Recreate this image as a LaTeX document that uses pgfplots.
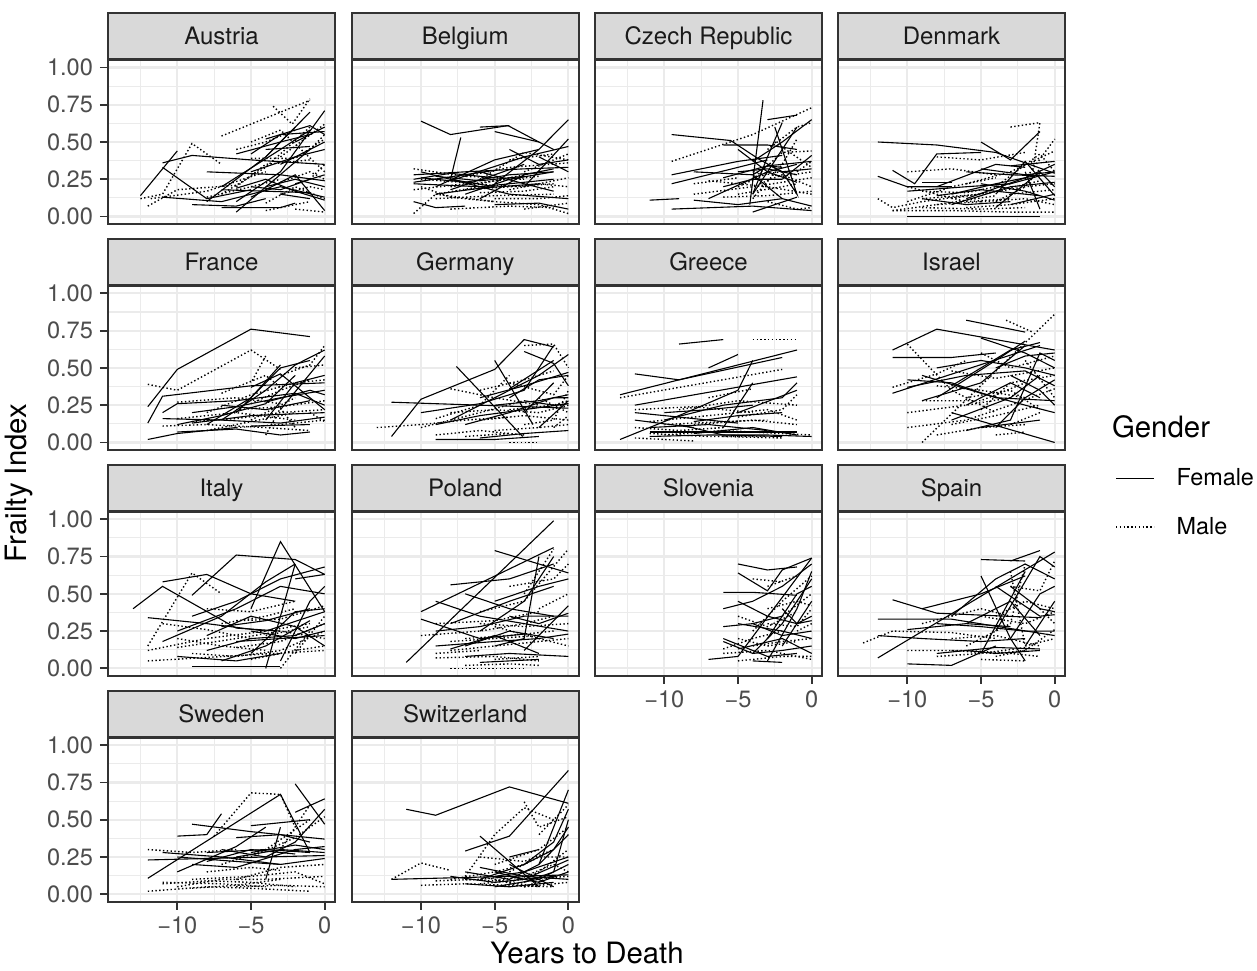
\documentclass[border=0pt]{standalone}
\usepackage{fontspec}
\setmainfont{TeX Gyre Heros}
\usepackage{pgfplots}
\pgfplotsset{compat=1.18}
\definecolor{stripfill}{HTML}{D9D9D9}
\definecolor{border}{HTML}{333333}
\definecolor{gridc}{HTML}{EBEBEB}
\definecolor{ticklab}{HTML}{4D4D4D}
\definecolor{striptext}{HTML}{1A1A1A}
\newcommand{\tickfont}{\fontsize{11.8}{13}\selectfont}
\newcommand{\stripfont}{\fontsize{12}{13}\selectfont}
\newcommand{\titlefont}{\fontsize{14.7}{17}\selectfont}
\newcommand{\legfont}{\fontsize{11.7}{14}\selectfont}
\pgfplotsset{
  fem/.style={black, line width=0.55pt, mark=none, solid},
  mal/.style={black, line width=0.7pt, mark=none, dash pattern=on 0.7pt off 1.2pt},
  panel/.style={
    scale only axis, width=113.5pt, height=82pt,
    xmin=-14.7, xmax=0.7, ymin=-0.05, ymax=1.05,
    xtick={-10,-5,0}, ytick={0,0.25,0.5,0.75,1},
    minor xtick={-12.5,-7.5,-2.5}, minor ytick={0.125,0.375,0.625,0.875},
    xticklabels={}, yticklabels={},
    xtick pos=bottom, ytick pos=left,
    grid=both,
    major grid style={draw=gridc, line width=1.1pt},
    minor grid style={draw=gridc, line width=0.55pt},
    axis line style={draw=border, line width=0.9pt},
    tick align=outside, major tick length=4pt, minor tick length=0pt,
    xtick style={draw=none}, ytick style={draw=none},
    every axis title/.style={at={(0.5,1)}, anchor=south, fill=stripfill, draw=border,
      line width=0.9pt, minimum width=113.5pt, minimum height=23pt, inner sep=0pt,
      text height=8.6pt, text depth=0pt,
      font=\stripfont, text=striptext},
    tick label style={font=\tickfont, text=ticklab},
    clip=true,
  },
  ylab/.style={yticklabels={0.00,0.25,0.50,0.75,1.00}, ytick style={draw=border, line width=0.9pt}},
  xlab/.style={xticklabels={−10,−5,0}, xtick style={draw=border, line width=0.9pt}},
}
\newcommand{\F}[1]{\addplot[fem] coordinates {#1};}
\newcommand{\M}[1]{\addplot[mal] coordinates {#1};}
\newcommand{\panel}[5]{%
\begin{axis}[panel, at={(#1,#2)}, anchor=south west, title={#3}, #4]
#5
\end{axis}}
\begin{document}
\begin{tikzpicture}
\path[use as bounding box] (0,0) rectangle (628.5pt,-485pt);
% ---------------- Row 1 ----------------
\panel{54pt}{-112pt}{Austria}{ylab}{%
\F{(-12.5,0.14)(-10,0.44)}
\F{(-11,0.33)(-8,0.12)(-5,0.18)}
\F{(-11,0.36)(-9,0.41)(-5,0.38)(0,0.35)}
\M{(-12.5,0.12)(-11,0.15)(-9,0.49)(-7,0.35)}
\M{(-12,0.07)(-10,0.18)(-6,0.21)}
\M{(-11.8,0.12)(-8,0.17)(-4,0.3)}
\M{(-7,0.54)(-1,0.78)}
\M{(-3.5,0.74)(-2.2,0.62)(-1,0.79)}
\F{(-11,0.13)(-7,0.1)(-3,0.2)(0,0.13)}
\F{(-8,0.3)(-3,0.28)(0,0.24)}
\F{(-7,0.06)(-3,0.06)(-2,0.09)}
\F{(-6,0.03)(-1,0.45)}
\F{(-8,0.1)(-4,0.4)(-2,0.6)}
\F{(-6,0.1)(-3,0.3)(0,0.71)}
\F{(-4,0.4)(-1,0.7)}
\F{(-5,0.42)(-3,0.55)(0,0.57)}
\F{(-4,0.52)(-1,0.61)(0,0.55)}
\F{(-6,0.19)(-4,0.25)(-2,0.17)(0,0.11)}
\F{(-3,0.35)(0,0.5)}
\F{(-7,0.2)(-3,0.45)(-1,0.58)}
\F{(-4,0.45)(-1,0.47)}
\F{(-5,0.13)(-2,0.28)(0,0.04)}
\F{(-3,0.15)(-1,0.12)}
\F{(-7,0.18)(-4,0.17)(-1,0.16)}
\M{(-7,0.15)(-4,0.33)(-1,0.6)}
\M{(-5,0.39)(-2,0.39)(0,0.52)}
\M{(-4,0.09)(-2,0.2)(0,0.12)}
\M{(-6,0.2)(-4,0.35)(-1,0.38)}
\M{(-3,0.4)(0,0.62)}
\M{(-2,0.05)(0,0.03)}
\M{(-4,0.04)(-1,0.1)}
\M{(-1,0.25)(0,0.35)}
\M{(-5,0.5)(-3,0.58)(0,0.3)}
\M{(-3,0.23)(-1,0.3)(0,0.25)}
\F{(-2,0.22)(0,0.28)}
\F{(-9,0.08)(-6,0.07)(-4,0.12)}
\F{(-6,0.42)(-3,0.5)(-1,0.55)}
\F{(-5,0.3)(-2,0.4)(0,0.45)}
\F{(-4,0.2)(-2,0.25)(0,0.2)}
\M{(-6,0.45)(-4,0.5)(-2,0.58)}
\M{(-3,0.15)(-1,0.2)(0,0.18)}
\M{(-8,0.13)(-5,0.2)(-3,0.25)}
\F{(-2,0.5)(0,0.6)}
\M{(-1,0.45)(0,0.55)}
\F{(-5,0.2)(-3,0.18)(-1,0.25)}
}
\panel{175.85pt}{-112pt}{Belgium}{}{%
\F{(-10,0.64)(-8,0.55)(-4.1,0.61)(-2,0.5)}
\F{(-6,0.6)(-4,0.61)}
\F{(-5,0.57)(-2,0.5)(-1,0.45)}
\F{(-7.3,0.53)(-8,0.25)(-5,0.2)}
\F{(-5,0.22)(-2,0.45)(0,0.65)}
\F{(-3,0.2)(0,0.52)}
\F{(-10.5,0.28)(-7,0.3)(-3,0.32)(0,0.33)}
\F{(-10.5,0.22)(-6,0.2)(-1,0.25)}
\F{(-10.5,0.1)(-9,0.06)(-7,0.07)}
\F{(-10.5,0.25)(-8,0.29)(-5,0.26)}
\F{(-9,0.2)(-5,0.38)(-2,0.45)}
\F{(-10,0.3)(-4,0.15)(0,0.12)}
\F{(-8,0.24)(-3,0.4)(0,0.47)}
\F{(-7,0.15)(-4,0.25)(-1,0.3)}
\F{(-6,0.3)(-3,0.22)(-1,0.17)}
\F{(-5,0.08)(-2,0.09)(0,0.05)}
\F{(-9,0.15)(-6,0.19)(-2,0.22)}
\F{(-10.5,0.23)(-5,0.31)}
\F{(-4,0.45)(-2,0.35)(0,0.38)}
\M{(-10.5,0.02)(-9,0.15)(-6,0.2)}
\M{(-10.5,0.32)(-7,0.27)(-3,0.25)}
\M{(-10.5,0.18)(-7,0.22)(-3,0.2)(0,0.26)}
\M{(-9,0.15)(-5,0.1)(-2,0.08)(0,0.02)}
\M{(-8,0.05)(-4,0.07)(-1,0.06)}
\M{(-7,0.27)(-4,0.33)(0,0.36)}
\M{(-6,0.25)(-3,0.43)(0,0.38)}
\M{(-5,0.12)(-2,0.12)(0,0.14)}
\M{(-9,0.12)(-5,0.14)(-1,0.15)}
\M{(-3,0.3)(0,0.42)}
\M{(-4,0.38)(-1,0.42)}
\M{(-8,0.2)(-5,0.24)(-2,0.27)}
\M{(-10,0.2)(-8,0.13)(-5,0.1)}
\M{(-6,0.16)(-3,0.17)(-1,0.2)}
\F{(-10,0.26)(-7,0.23)(-4,0.28)(-1,0.3)}
\F{(-8,0.18)(-5,0.28)(-3,0.35)}
\M{(-10,0.25)(-6,0.22)(-2,0.3)}
\M{(-7,0.18)(-4,0.2)(-1,0.22)}
\F{(-6,0.12)(-3,0.28)(-1,0.32)}
\M{(-4,0.18)(-2,0.22)(0,0.2)}
\F{(-9,0.27)(-6,0.24)(-3,0.27)}
\M{(-3,0.05)(0,0.09)}
\F{(-2,0.4)(0,0.3)}
}
\panel{297.5pt}{-112pt}{Czech Republic}{}{%
\F{(-11,0.11)(-9,0.12)}
\F{(-9.5,0.05)(-4,0.07)(0,0.04)}
\F{(-9.5,0.55)(-5.5,0.51)(-3.5,0.38)(-2,0.3)}
\F{(-3.3,0.78)(-4.2,0.08)}
\F{(-9.5,0.22)(-5,0.33)(-3,0.38)}
\F{(-9.5,0.28)(-5,0.37)(-2,0.41)}
\F{(-6,0.48)(-3,0.48)(-1,0.45)}
\F{(-8,0.3)(-4,0.28)(-2,0.12)(0,0.07)}
\F{(-4,0.03)(-1,0.13)}
\F{(-5,0.45)(-3,0.3)(-1,0.35)}
\F{(-3,0.65)(-1,0.68)}
\F{(-2,0.63)(-3,0.4)(-4,0.15)}
\F{(-2.5,0.6)(-1,0.15)(-2,0.3)}
\F{(-4,0.15)(-1,0.6)}
\F{(-6,0.26)(-3,0.34)(0,0.37)}
\F{(-2,0.25)(0,0.41)}
\F{(-4,0.37)(-2,0.5)(0,0.65)}
\F{(-7,0.12)(-3,0.3)(-1,0.23)}
\F{(-8,0.11)(-5,0.08)(-2,0.12)}
\M{(-9.5,0.37)(-4,0.55)(0,0.73)}
\M{(-8,0.15)(-4,0.2)(0,0.26)}
\M{(-7,0.24)(-3,0.2)(0,0.15)}
\M{(-4,0.25)(-2,0.43)(0,0.44)}
\M{(-5,0.15)(-2,0.2)(-1,0.22)}
\M{(-2.5,0.5)(0,0.33)}
\M{(-6,0.13)(-3,0.14)(0,0.17)}
\M{(-3,0.1)(-1,0.05)(0,0.06)}
\M{(-4,0.12)(-2,0.35)(-1,0.52)}
\M{(-1,0.3)(0,0.37)}
\M{(-8,0.22)(-5,0.26)}
\M{(-3.5,0.22)(-2,0.28)(0,0.2)}
\F{(-5,0.3)(-3,0.32)(-1,0.28)}
\F{(-3,0.35)(-2,0.3)(0,0.32)}
\M{(-4,0.3)(-2,0.27)(0,0.3)}
\M{(-3,0.45)(-1,0.6)(0,0.63)}
\F{(-4,0.28)(-3,0.34)(-2,0.33)}
\M{(-5,0.2)(-3,0.29)(-1,0.31)}
\F{(-6,0.2)(-4,0.25)(-2,0.25)}
}
\panel{419pt}{-112pt}{Denmark}{}{%
\F{(-12,0.5)(-8,0.48)(-4,0.43)(0,0.29)}
\F{(-10,0.0)(-1,0.0)}
\F{(-12,0.27)(-10,0.2)(-7,0.2)}
\F{(-11,0.31)(-9.5,0.22)(-8,0.42)(-5,0.43)}
\F{(-9,0.23)(-7,0.23)}
\F{(-5,0.5)(-3,0.38)(-1,0.57)}
\F{(-8,0.2)(-4,0.35)(-2,0.33)}
\F{(-6,0.12)(-2,0.26)(0,0.35)}
\F{(-4,0.06)(-1,0.3)(0,0.2)}
\F{(-7,0.08)(-3,0.2)(0,0.23)}
\F{(-6,0.3)(-3,0.28)(0,0.27)}
\F{(-4,0.15)(-2,0.37)(0,0.14)}
\F{(-3,0.34)(0,0.37)}
\F{(-8,0.14)(-5,0.18)(-1,0.14)}
\F{(-5,0.22)(-2,0.17)(0,0.11)}
\F{(-2,0.3)(-1,0.05)}
\F{(-9,0.12)(-6,0.08)(-3,0.1)}
\M{(-12,0.12)(-11,0.06)(-9,0.1)(-6,0.14)}
\M{(-11,0.04)(-8,0.08)(-5,0.1)}
\M{(-10,0.1)(-7,0.2)(-4,0.26)}
\M{(-10,0.3)(-7,0.32)(-4,0.28)}
\M{(-8,0.4)(-5,0.38)(-2,0.43)}
\M{(-3,0.6)(-1,0.63)(-1.5,0.3)}
\M{(-11,0.04)(-7,0.04)(-3,0.03)(0,0.03)}
\M{(-9,0.06)(-5,0.05)(-2,0.06)}
\M{(-7,0.12)(-4,0.17)(-1,0.24)}
\M{(-6,0.22)(-3,0.3)(0,0.44)}
\M{(-5,0.1)(-2,0.12)(0,0.08)}
\M{(-4,0.2)(-1,0.42)(0,0.3)}
\M{(-3,0.15)(0,0.18)}
\M{(-8,0.08)(-4,0.14)}
\M{(-2,0.25)(0,0.52)}
\M{(-9,0.17)(-6,0.16)(-3,0.22)}
\F{(-10,0.17)(-6,0.2)(-3,0.22)(0,0.3)}
\M{(-9,0.12)(-5,0.15)(-2,0.2)(0,0.22)}
\F{(-7,0.15)(-4,0.22)(-1,0.28)}
\M{(-6,0.06)(-3,0.08)(0,0.12)}
\F{(-5,0.32)(-2,0.28)(0,0.3)}
\M{(-4,0.1)(-2,0.2)(-1,0.32)}
\F{(-3,0.08)(0,0.15)}
\M{(-10,0.2)(-6,0.1)(-3,0.12)}
}
% ---------------- Row 2 ----------------
\panel{54pt}{-224.95pt}{France}{ylab}{%
\F{(-12,0.24)(-10,0.49)(-5,0.76)(-1,0.71)}
\M{(-12,0.39)(-10,0.35)(-5,0.62)(-3,0.49)}
\F{(-12,0.13)(-11,0.31)(-5,0.38)(0,0.4)}
\F{(-12,0.02)(-10,0.06)(-6,0.1)}
\F{(-11,0.2)(-10,0.26)(-6,0.28)(-2,0.33)}
\F{(-10,0.12)(-7,0.18)(-4,0.26)(-2,0.45)}
\F{(-11,0.16)(-7,0.15)(-3,0.13)(0,0.17)}
\F{(-10,0.07)(-6,0.09)(-3,0.05)(-1,0.07)}
\F{(-8,0.12)(-5,0.3)(-3,0.52)}
\F{(-7,0.15)(-4,0.35)(-2,0.52)(0,0.62)}
\F{(-6,0.2)(-3,0.5)(-1,0.55)}
\F{(-5,0.37)(-3,0.46)(0,0.22)}
\F{(-4,0.27)(-1,0.35)(0,0.32)}
\F{(-3,0.22)(0,0.58)}
\F{(-9,0.13)(-5,0.18)(0,0.2)}
\F{(-5,0.11)(-1,0.12)}
\F{(-2,0.33)(0,0.25)}
\M{(-11,0.11)(-8,0.12)(-4,0.1)(-1,0.08)}
\M{(-10,0.27)(-6,0.3)(-3,0.26)}
\M{(-10,0.16)(-6,0.2)(-2,0.15)}
\M{(-8,0.2)(-5,0.32)(-2,0.4)(0,0.42)}
\M{(-7,0.33)(-4,0.45)(-3,0.37)}
\M{(-4,0.58)(-5,0.4)}
\M{(-4,0.05)(-3,0.23)(-2,0.1)}
\M{(-3,0.45)(-1,0.52)(0,0.65)}
\M{(-2,0.5)(0,0.52)}
\M{(-6,0.22)(-3,0.24)(0,0.28)}
\M{(-6,0.1)(-3,0.12)(0,0.15)}
\M{(-1,0.2)(0,0.14)}
\M{(-5,0.15)(-2,0.3)}
\F{(-9,0.2)(-6,0.24)(-3,0.3)(0,0.35)}
\M{(-9,0.14)(-6,0.16)(-3,0.2)(0,0.22)}
\F{(-7,0.25)(-4,0.22)(-1,0.28)}
\M{(-8,0.08)(-5,0.14)(-2,0.2)}
\F{(-4,0.15)(-2,0.4)(0,0.45)}
\M{(-5,0.26)(-3,0.35)(-1,0.42)}
}
\panel{175.85pt}{-224.95pt}{Germany}{}{%
\F{(-12,0.04)(-10,0.29)(-5,0.49)(-3,0.69)(-1,0.64)}
\M{(-13,0.1)(-10,0.12)(-7,0.15)(-4,0.17)}
\F{(-12,0.27)(-9,0.26)(0,0.23)}
\F{(-7.6,0.51)(-3.1,0.04)}
\F{(-5,0.55)(-2.4,0.12)}
\F{(-9,0.02)(-5,0.02)(-2,0.04)}
\M{(-4,0.0)(-2,0.0)}
\F{(-10,0.2)(-6,0.26)(-3,0.35)(-1,0.65)}
\F{(-8,0.15)(-5,0.3)(-2,0.45)(0,0.59)}
\F{(-7,0.12)(-4,0.2)(-1,0.3)(0,0.3)}
\F{(-6,0.3)(-3,0.38)(0,0.47)}
\F{(-3,0.61)(-1,0.53)(0,0.38)}
\F{(-5,0.25)(-2,0.28)(0,0.32)}
\F{(-4,0.36)(-1,0.55)}
\F{(-6,0.03)(-3,0.06)(0,0.08)}
\F{(-2,0.1)(0,0.28)}
\F{(-3,0.2)(-1,0.4)}
\M{(-10,0.1)(-6,0.2)(-3,0.28)}
\M{(-9,0.16)(-6,0.25)(-4,0.45)}
\M{(-8,0.36)(-5,0.3)(-2,0.25)}
\M{(-6,0.15)(-3,0.18)(0,0.15)}
\M{(-4,0.22)(-1,0.25)(0,0.28)}
\M{(-3,0.65)(-1,0.66)(0,0.5)}
\M{(-5,0.08)(-2,0.1)(0,0.12)}
\M{(-2,0.3)(0,0.2)}
\M{(-4,0.4)(-1,0.32)(0,0.45)}
\M{(-1,0.1)(0,0.18)}
\M{(-7,0.04)(-4,0.06)}
\M{(-3,0.12)(-1,0.15)(0,0.35)}
\F{(-9,0.12)(-6,0.18)(-3,0.22)(0,0.26)}
\M{(-8,0.2)(-5,0.22)(-2,0.2)(0,0.25)}
\F{(-4,0.3)(-2,0.42)(0,0.45)}
\M{(-6,0.35)(-3,0.42)(-1,0.48)}
\F{(-3,0.28)(-1,0.25)(0,0.26)}
\M{(-9,0.05)(-6,0.08)(-3,0.05)}
}
\panel{297.5pt}{-224.95pt}{Greece}{}{%
\F{(-9,0.66)(-6,0.69)}
\M{(-4,0.69)(-1,0.69)}
\F{(-7,0.5)(-5,0.59)}
\F{(-12,0.46)(-9,0.42)(-2,0.57)}
\F{(-13,0.32)(-1,0.62)}
\M{(-13,0.3)(-2,0.49)}
\F{(-12,0.25)(-1,0.44)}
\F{(-13,0.02)(-9,0.18)(-5,0.35)(-4,0.55)}
\F{(-12,0.2)(-8,0.16)(-5,0.13)}
\F{(-11,0.07)(-1,0.07)}
\F{(-11,0.1)(-7,0.12)(-3,0.08)}
\F{(-10,0.15)(-6,0.25)(-2,0.3)(-1,0.4)}
\F{(-8,0.06)(-4,0.1)(-1,0.05)}
\F{(-6,0.1)(-4,0.4)}
\F{(-5,0.2)(-1,0.35)}
\F{(-9,0.12)(-6,0.05)(-2,0.04)}
\F{(-12,0.15)(-8,0.1)}
\M{(-12,0.22)(-8,0.24)(-4,0.2)}
\M{(-12,0.03)(-8,0.01)}
\M{(-11,0.14)(-7,0.18)(-3,0.22)(-1,0.15)}
\M{(-10,0.05)(-6,0.08)(-2,0.06)(0,0.05)}
\M{(-9,0.22)(-5,0.28)(-1,0.25)}
\M{(-8,0.12)(-4,0.15)(-1,0.12)}
\M{(-7,0.3)(-4,0.36)}
\M{(-6,0.04)(-2,0.03)}
\M{(-12,0.1)(-9,0.08)(-6,0.1)}
\M{(-5,0.17)(-2,0.22)(-1,0.32)}
\F{(-11,0.04)(-7,0.05)(-3,0.05)(0,0.04)}
\M{(-11,0.06)(-7,0.04)(-3,0.04)}
\F{(-10,0.2)(-7,0.22)(-4,0.25)}
\M{(-10,0.12)(-6,0.14)(-3,0.15)}
\F{(-8,0.14)(-5,0.18)(-2,0.2)}
}
\panel{419pt}{-224.95pt}{Israel}{}{%
\F{(-11,0.62)(-8,0.76)(0,0.62)}
\F{(-11,0.57)(-7,0.57)(-4,0.6)}
\F{(-11,0.33)(-1,0.65)}
\M{(-10,0.66)(-7,0.35)(-4,0.2)}
\M{(-3.3,0.82)(-1.5,0.74)}
\M{(-9,0.0)(0,0.86)}
\F{(-6,0.82)(-2,0.74)}
\F{(-7,0.2)(0,0.0)}
\F{(-10,0.37)(-6,0.45)(-2,0.48)(0,0.38)}
\F{(-10,0.42)(-7,0.4)(-4,0.3)(0,0.28)}
\F{(-9,0.28)(-5,0.4)(-2,0.65)}
\F{(-8,0.3)(-4,0.55)(-2,0.68)}
\F{(-7,0.15)(-3,0.3)(-1,0.45)}
\F{(-6,0.08)(-3,0.15)(-1,0.6)(0,0.55)}
\F{(-5,0.7)(-2,0.6)(0,0.5)}
\F{(-9,0.45)(-5,0.33)(-2,0.25)(0,0.2)}
\F{(-4,0.1)(-2,0.3)(0,0.42)}
\F{(-5,0.1)(-1,0.15)}
\F{(-3,0.45)(-1,0.35)(0,0.25)}
\F{(-7,0.38)(-3,0.62)(-1,0.67)}
\M{(-11,0.37)(-8,0.46)(-6,0.55)}
\M{(-10,0.2)(-6,0.25)(-3,0.3)}
\M{(-10,0.1)(-6,0.15)(-3,0.25)(0,0.36)}
\M{(-8,0.05)(-5,0.1)(-2,0.12)}
\M{(-7,0.48)(-4,0.43)(0,0.5)}
\M{(-6,0.3)(-3,0.35)(-1,0.22)}
\M{(-5,0.22)(-3,0.4)(0,0.45)}
\M{(-4,0.05)(-2,0.07)}
\M{(-2,0.55)(0,0.3)}
\M{(-9,0.28)(-5,0.28)(-2,0.4)}
\M{(-3,0.12)(-1,0.2)}
\F{(-8,0.5)(-5,0.55)(-2,0.5)(0,0.45)}
\M{(-8,0.38)(-5,0.35)(-2,0.3)}
\F{(-6,0.25)(-3,0.4)(-1,0.3)}
\M{(-7,0.12)(-4,0.18)(-1,0.25)}
\F{(-4,0.5)(-2,0.58)(0,0.6)}
\M{(-5,0.6)(-3,0.5)(0,0.58)}
}
% ---------------- Row 3 ----------------
\panel{54pt}{-337.9pt}{Italy}{ylab}{%
\F{(-13,0.4)(-11,0.55)(-6,0.27)(-3,0.25)}
\F{(-11,0.58)(-8,0.63)(-5,0.5)(-2,0.45)}
\F{(-9,0.49)(-6,0.76)(-2,0.73)(0,0.63)}
\F{(-5,0.4)(-3,0.85)(0,0.38)}
\F{(-9,0.01)(-3,0.01)}
\M{(-12,0.15)(-9,0.64)(-7,0.5)}
\M{(-12,0.05)(0,0.12)}
\F{(-12,0.34)(-8,0.3)(-4,0.25)(0,0.38)}
\F{(-11,0.18)(-7,0.35)(-4,0.58)(-2,0.7)}
\F{(-10,0.25)(-6,0.4)(-3,0.55)(0,0.5)}
\F{(-9,0.35)(-6,0.45)(-3,0.6)(0,0.68)}
\F{(-8,0.22)(-5,0.35)(-2,0.28)(0,0.15)}
\F{(-7,0.05)(-4,0.15)(-1,0.32)}
\F{(-6,0.18)(-3,0.2)(0,0.22)}
\F{(-4,0.0)(-2,0.7)}
\F{(-3,0.05)(-1,0.45)(0,0.55)}
\F{(-10,0.08)(-6,0.05)(-3,0.1)}
\F{(-5,0.1)(-2,0.38)(0,0.4)}
\F{(-2,0.6)(0,0.63)}
\M{(-12,0.12)(-8,0.2)(-4,0.25)(-1,0.3)}
\M{(-11,0.3)(-8,0.26)(-5,0.2)}
\M{(-10,0.2)(-7,0.15)(-4,0.12)}
\M{(-9,0.1)(-6,0.08)(-3,0.12)(0,0.25)}
\M{(-7,0.3)(-4,0.35)(-2,0.4)}
\M{(-6,0.32)(-3,0.33)(0,0.42)}
\M{(-5,0.06)(-2,0.12)(0,0.15)}
\M{(-3,0.0)(-1,0.25)}
\M{(-4,0.22)(-1,0.28)}
\M{(-2,0.1)(0,0.35)}
\M{(-8,0.4)(-5,0.38)(-2,0.45)}
\F{(-8,0.12)(-5,0.2)(-2,0.22)(0,0.3)}
\M{(-10,0.14)(-6,0.2)(-3,0.25)(0,0.2)}
\F{(-7,0.28)(-4,0.32)(-1,0.4)}
\M{(-6,0.14)(-3,0.18)(0,0.3)}
\F{(-5,0.25)(-2,0.2)(0,0.25)}
}
\panel{175.85pt}{-337.9pt}{Poland}{}{%
\F{(-11,0.04)(-1,0.99)}
\F{(-10,0.38)(-1,0.81)}
\F{(-5,0.79)(0,0.64)}
\F{(-8,0.56)(-4,0.6)(-1,0.7)}
\F{(-9,0.45)(-6,0.35)(-3,0.3)(0,0.25)}
\F{(-10,0.33)(-6,0.2)(-3,0.23)}
\F{(-9,0.15)(-5,0.18)(-2,0.2)(0,0.23)}
\F{(-8,0.3)(-4,0.45)(-1,0.55)}
\F{(-7,0.08)(-4,0.1)(0,0.08)}
\F{(-6,0.25)(-3,0.45)(-1,0.75)}
\F{(-5,0.15)(-3,0.2)(-2,0.75)}
\F{(-8,0.13)(-5,0.22)(-2,0.1)}
\F{(-4,0.35)(-2,0.3)(0,0.37)}
\F{(-3,0.12)(0,0.42)}
\F{(-6,0.04)(-2,0.06)}
\F{(-7,0.5)(-4,0.4)(-1,0.35)}
\M{(-8,0.0)(-3,0.0)}
\M{(-10,0.22)(-6,0.25)(-3,0.3)(-1,0.35)}
\M{(-9,0.3)(-5,0.32)(-2,0.38)}
\M{(-8,0.12)(-5,0.15)(-2,0.18)(0,0.2)}
\M{(-7,0.2)(-4,0.22)(-1,0.25)}
\M{(-6,0.38)(-3,0.45)(0,0.8)}
\M{(-5,0.06)(-2,0.08)}
\M{(-4,0.55)(-1,0.6)(0,0.7)}
\M{(-3,0.5)(-1,0.8)}
\M{(-7,0.02)(-4,0.03)(-2,0.02)}
\M{(-2,0.4)(0,0.5)}
\M{(-5,0.28)(-2,0.2)(0,0.15)}
\M{(-9,0.1)(-6,0.12)}
\F{(-9,0.25)(-6,0.28)(-3,0.35)(0,0.35)}
\M{(-8,0.18)(-5,0.2)(-2,0.22)}
\F{(-7,0.15)(-4,0.25)(-1,0.2)}
\M{(-9,0.07)(-5,0.08)(-2,0.05)}
\F{(-5,0.45)(-2,0.55)(0,0.6)}
\M{(-6,0.3)(-3,0.28)(0,0.3)}
}
\panel{297.5pt}{-337.9pt}{Slovenia}{xlab}{%
\F{(-5,0.7)(-3,0.66)(-1,0.68)}
\F{(-5,0.64)(-3,0.52)(-2,0.66)(0,0.74)}
\F{(-6,0.51)(-4,0.51)(-1,0.49)}
\F{(-6,0.4)(-4,0.45)(-2,0.55)(0,0.7)}
\F{(-7,0.06)(-5,0.08)(0,0.74)}
\F{(-6,0.18)(-4,0.1)(-2,0.12)(0,0.15)}
\F{(-5,0.45)(-3,0.35)(-1,0.3)(0,0.32)}
\F{(-4,0.1)(-2,0.3)(0,0.6)}
\F{(-3,0.05)(-1,0.4)(0,0.65)}
\F{(-5,0.3)(-2,0.25)(0,0.2)}
\F{(-4,0.05)(-2,0.04)}
\F{(-3,0.2)(-1,0.5)(0,0.55)}
\F{(-6,0.2)(-3,0.08)(-1,0.1)}
\F{(-2,0.15)(0,0.45)}
\F{(-5,0.13)(-2,0.2)(0,0.1)}
\M{(-6,0.13)(-4,0.2)(-2,0.25)}
\M{(-6,0.1)(-3,0.12)(0,0.06)}
\M{(-5,0.35)(-3,0.28)(-1,0.38)}
\M{(-4,0.25)(-2,0.45)(0,0.62)}
\M{(-5,0.05)(-2,0.08)(0,0.08)}
\M{(-3,0.55)(-1,0.62)}
\M{(-4,0.6)(-2,0.58)}
\M{(-2,0.35)(0,0.5)}
\M{(-5,0.2)(-3,0.15)(-1,0.18)}
\M{(-1,0.25)(0,0.3)}
\M{(-3,0.3)(-1,0.28)(0,0.4)}
\F{(-4,0.3)(-2,0.22)(0,0.25)}
\M{(-4,0.15)(-2,0.18)(0,0.2)}
\F{(-2,0.4)(-1,0.3)(0,0.35)}
\M{(-3,0.4)(-1,0.45)(0,0.42)}
\F{(-6,0.28)(-4,0.3)(-2,0.35)}
}
\panel{419pt}{-337.9pt}{Spain}{xlab,
  legend image code/.code={\draw[#1] (0pt,0pt) -- (19pt,0pt);},
  legend style={at={(axis description cs:1.22,1.054)}, anchor=west, draw=none, fill=none,
    inner sep=0pt, row sep=14pt, column sep=10.9pt, font=\legfont,
    nodes={inner sep=0pt}},
  legend cell align=left}{%
\addlegendimage{fem}\addlegendentry{Female}
\addlegendimage{mal}\addlegendentry{Male}
\F{(-12,0.07)(0,0.78)}
\F{(-5,0.73)(-2,0.72)}
\F{(-3,0.72)(-1,0.79)}
\F{(-11,0.46)(-8,0.37)(-1,0.34)}
\F{(-12,0.33)(-7,0.33)(0,0.22)}
\F{(-10,0.03)(-7,0.02)(-4,0.15)}
\F{(-12,0.22)(-9,0.2)(-5,0.18)(-2,0.2)}
\F{(-9,0.4)(-5,0.5)(-2,0.62)}
\F{(-8,0.1)(-4,0.14)(-1,0.13)}
\F{(-7,0.35)(-4,0.6)(-2,0.7)(0,0.6)}
\F{(-6,0.3)(-3,0.45)(-1,0.22)}
\F{(-5,0.1)(-2,0.65)}
\F{(-4,0.55)(-1,0.35)(0,0.36)}
\F{(-3,0.2)(-1,0.5)(0,0.55)}
\F{(-5,0.62)(-3,0.2)(-2,0.05)}
\F{(-4,0.25)(-1,0.75)(0,0.68)}
\F{(-2,0.15)(0,0.45)}
\F{(-10,0.26)(-6,0.3)(-3,0.28)}
\M{(-13,0.17)(-11,0.25)(-7,0.24)(-4,0.2)}
\M{(-10,0.12)(-6,0.12)(-3,0.1)(-1,0.08)}
\M{(-5,0.06)(-2,0.05)}
\M{(-9,0.3)(-5,0.4)(-3,0.35)}
\M{(-7,0.2)(-4,0.22)(-1,0.15)}
\M{(-6,0.15)(-3,0.3)(-2,0.7)}
\M{(-4,0.08)(-2,0.12)(0,0.26)}
\M{(-3,0.55)(-1,0.52)(0,0.72)}
\M{(-8,0.08)(-5,0.1)(-2,0.14)}
\M{(-5,0.35)(-2,0.3)(0,0.38)}
\M{(-3,0.65)(-2,0.15)(0,0.2)}
\M{(-1,0.4)(0,0.3)}
\F{(-8,0.3)(-5,0.28)(-2,0.25)(0,0.25)}
\M{(-7,0.12)(-4,0.1)(-2,0.12)}
\F{(-6,0.12)(-4,0.1)(-1,0.12)}
\M{(-4,0.35)(-2,0.45)(0,0.4)}
\F{(-3,0.55)(-1,0.4)(0,0.38)}
}
% ---------------- Row 4 ----------------
\panel{54pt}{-450.85pt}{Sweden}{ylab,xlab}{%
\F{(-12,0.107)(-3,0.67)(-1,0.28)}
\F{(-10,0.39)(-8,0.4)(-7,0.54)}
\F{(-2,0.74)(0,0.47)}
\F{(-2,0.55)(0,0.64)}
\M{(-7.5,0.39)(-5,0.68)(-3,0.67)(-2,0.45)}
\F{(-9,0.47)(-5,0.42)(0,0.37)}
\F{(-12,0.23)(0,0.26)}
\F{(-10,0.15)(-6,0.32)(-4,0.45)}
\F{(-5,0.46)(-1,0.5)}
\F{(-4,0.1)(-3,0.45)}
\F{(-11,0.28)(-7,0.25)(-3,0.2)(0,0.24)}
\F{(-9,0.2)(-6,0.18)(-2,0.3)(0,0.32)}
\F{(-8,0.28)(-4,0.3)(-1,0.28)}
\F{(-10,0.25)(-6,0.22)(-3,0.2)}
\F{(-6,0.38)(-3,0.4)(-1,0.35)}
\F{(-7,0.3)(-4,0.25)(-2,0.35)(0,0.57)}
\F{(-5,0.28)(-2,0.33)(0,0.3)}
\M{(-12,0.02)(-8,0.05)(-5,0.04)(-1,0.02)}
\M{(-11,0.07)(-8,0.09)(-5,0.08)(-2,0.05)}
\M{(-12,0.3)(-9,0.28)(-6,0.3)}
\M{(-10,0.05)(-7,0.1)(-4,0.1)(0,0.12)}
\M{(-9,0.1)(-5,0.12)(-2,0.15)(0,0.07)}
\M{(-7,0.2)(-4,0.3)(-1,0.5)}
\M{(-6,0.1)(-3,0.18)(0,0.2)}
\M{(-8,0.15)(-5,0.18)(-3,0.16)}
\M{(-5,0.25)(-2,0.38)(0,0.52)}
\M{(-3,0.3)(-1,0.6)}
\M{(-11,0.08)(-7,0.07)(-4,0.05)}
\F{(-8,0.22)(-5,0.3)(-2,0.27)}
\M{(-6,0.05)(-3,0.06)(0,0.05)}
\F{(-6,0.25)(-3,0.3)(0,0.28)}
\M{(-9,0.04)(-6,0.06)(-3,0.1)}
}
\panel{175.85pt}{-450.85pt}{Switzerland}{xlab}{%
\F{(-11,0.57)(-9,0.53)(-4,0.72)(0,0.61)}
\F{(-7,0.29)(-4,0.39)(0,0.83)}
\F{(-6,0.39)(-2,0.05)}
\M{(-12,0.1)(-10,0.21)(-8,0.16)}
\F{(-12,0.1)(0,0.13)}
\M{(-3,0.62)(-2,0.45)(0,0.52)}
\F{(-8,0.12)(-5,0.08)(-3,0.1)(0,0.23)}
\F{(-7,0.15)(-4,0.1)(-2,0.2)(0,0.4)}
\F{(-6,0.1)(-3,0.2)(-1,0.35)(0,0.57)}
\F{(-5,0.12)(-3,0.15)(0,0.25)}
\F{(-4,0.25)(-2,0.3)}
\F{(-5,0.05)(-2,0.1)(0,0.2)}
\F{(-3,0.08)(-1,0.15)(0,0.5)}
\F{(-6,0.18)(-3,0.12)(0,0.1)}
\F{(-2,0.2)(0,0.7)}
\F{(-4,0.2)(-1,0.05)}
\F{(-7,0.07)(-4,0.05)(-1,0.08)}
\M{(-10,0.06)(-7,0.07)(-4,0.06)(-1,0.05)}
\M{(-8,0.1)(-5,0.15)(-3,0.2)}
\M{(-7,0.12)(-5,0.4)(-3,0.58)(-1,0.5)}
\M{(-6,0.07)(-3,0.1)(0,0.12)}
\M{(-5,0.2)(-2,0.3)(0,0.45)}
\M{(-4,0.08)(-2,0.15)(0,0.3)}
\M{(-3,0.05)(-1,0.12)}
\M{(-6,0.25)(-3,0.22)(-1,0.3)}
\M{(-2,0.4)(0,0.6)}
\M{(-5,0.1)(-3,0.05)(0,0.08)}
\M{(-9,0.09)(-6,0.1)(-4,0.12)}
\M{(-1,0.2)(0,0.15)}
\F{(-5,0.15)(-3,0.1)(-1,0.12)}
\M{(-7,0.1)(-5,0.09)(-3,0.12)(-1,0.2)}
\F{(-4,0.12)(-2,0.08)(0,0.15)}
\M{(-4,0.15)(-2,0.25)(0,0.25)}
\F{(-3,0.2)(-1,0.3)(0,0.45)}
\M{(-6,0.12)(-4,0.08)(-2,0.05)}
}
% ---------------- Titles and legend title ----------------
\node[anchor=base, rotate=90, font=\titlefont] at (13pt,-241.5pt) {Frailty Index};
\node[anchor=base, font=\titlefont] at (293.5pt,-481.6pt) {Years to Death};
\node[anchor=base west, font=\titlefont, inner sep=0pt] at (555.8pt,-218.7pt) {Gender};
\end{tikzpicture}
\end{document}
